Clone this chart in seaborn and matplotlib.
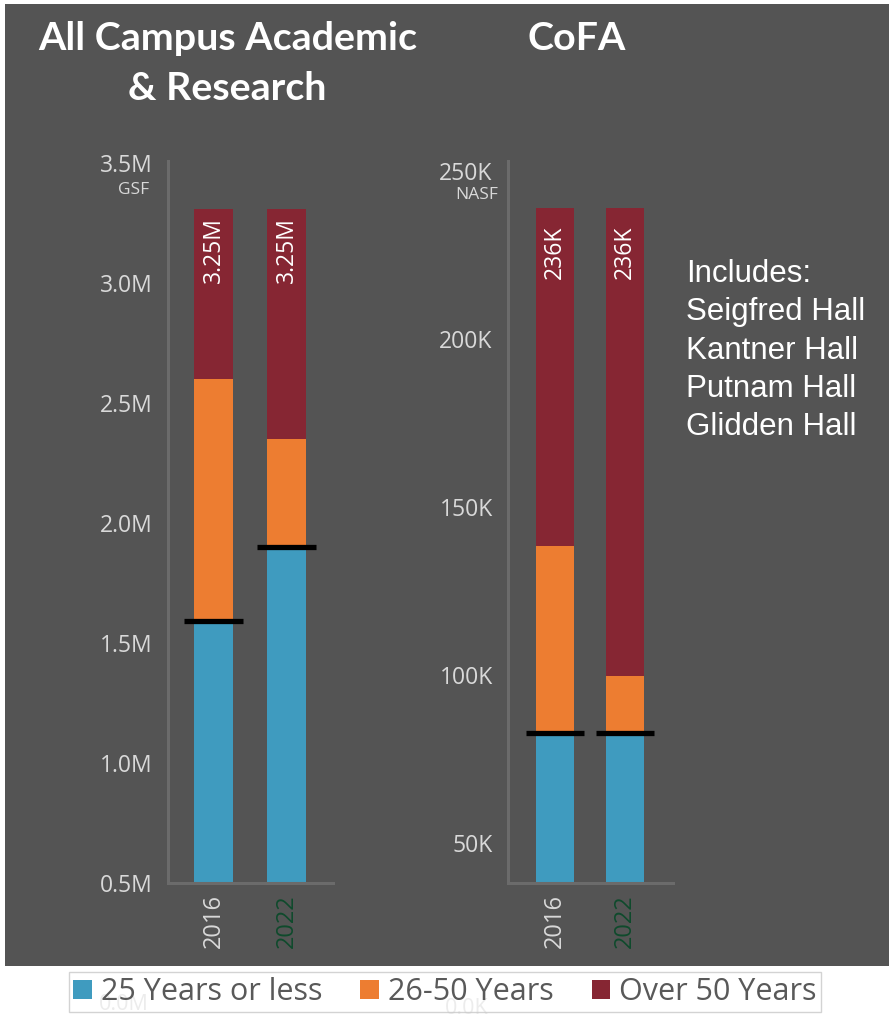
import numpy as np
import pandas as pd
import matplotlib
matplotlib.use("Agg")
import matplotlib.pyplot as plt
from matplotlib.patches import Patch, Rectangle
import seaborn as sns

sns.set_theme(style="white")
plt.rcParams['font.family'] = ['Open Sans', 'DejaVu Sans']

# ---------------- data ----------------
years = ["2016", "2022"]
series_names = ["25 Years or less", "26-50 Years", "Over 50 Years"]

# All Campus Academic & Research (GSF, millions)
campus_le25 = [1.59, 1.90]
campus_26_50 = [1.01, 0.45]
campus_over50 = [0.71, 0.96]
campus_labels = ["3.25M", "3.25M"]
campus_ticks = [0.5, 1.0, 1.5, 2.0, 2.5, 3.0, 3.5]
campus_ticklabels = ["0.5M", "1.0M", "1.5M", "2.0M", "2.5M", "3.0M", "3.5M"]

# CoFA (NASF, thousands)
cofa_le25 = [82.7, 82.7]
cofa_26_50 = [55.7, 17.0]
cofa_over50 = [100.6, 139.3]
cofa_labels = ["236K", "236K"]
cofa_ticks = [50, 100, 150, 200, 250]
cofa_ticklabels = ["50K", "100K", "150K", "200K", "250K"]

includes = ["Includes:", "Seigfred Hall", "Kantner Hall", "Putnam Hall", "Glidden Hall"]

# ---------------- style ----------------
BG = "#545454"
C_BLUE = "#3f9bbf"
C_ORANGE = "#ed7d31"
C_RED = "#862633"
TICK_C = "#d9d9d9"
SPINE_C = "#6b6b6b"
colors = [C_BLUE, C_ORANGE, C_RED]

W, H = 889, 1016
fig = plt.figure(figsize=(W / 100, H / 100), dpi=100, facecolor="white")
fig.patches.append(Rectangle((5 / W, (H - 966) / H), 1 - 5 / W, (966 - 4) / H,
                             transform=fig.transFigure, facecolor=BG,
                             edgecolor="none", zorder=-10))


def fx(px):
    return px / W


def fy(py):
    return 1 - py / H


def draw_panel(ax, le25, mid, over, labels, ticks, ticklabels, ylim, xlim,
               width, label_offset):
    df = pd.DataFrame({"year": years, "a": le25, "b": mid, "c": over})
    df["top_a"] = df["a"]
    df["top_b"] = df["a"] + df["b"]
    df["top_c"] = df["a"] + df["b"] + df["c"]
    for col, c in zip(["top_c", "top_b", "top_a"], [C_RED, C_ORANGE, C_BLUE]):
        sns.barplot(data=df, x="year", y=col, color=c, width=width,
                    saturation=1, ax=ax, edgecolor="none", linewidth=0)
    # black markers at top of "25 years or less"
    for i, v in enumerate(df["top_a"]):
        ax.hlines(v, i - 0.41, i + 0.41, color="black", lw=3.8, zorder=5,
                  clip_on=False)
    for i, (v, lab) in enumerate(zip(df["top_c"], labels)):
        ax.annotate(lab, (i, v), xytext=(0, label_offset),
                    textcoords="offset points", rotation=90, ha="center",
                    va="center", color="white", fontsize=16.5, zorder=6)
    ax.set_facecolor("none")
    ax.set_xlim(*xlim)
    ax.set_ylim(*ylim)
    ax.set_yticks(ticks)
    ax.set_yticklabels(ticklabels)
    ax.set_xlabel("")
    ax.set_ylabel("")
    ax.tick_params(axis="y", length=0, pad=11, labelsize=16.5, labelcolor=TICK_C)
    ax.tick_params(axis="x", length=0, pad=8, labelsize=17)
    for lbl in ax.get_xticklabels():
        lbl.set_rotation(90)
    xl = ax.get_xticklabels()
    xl[0].set_color(TICK_C)
    xl[1].set_color("#0f4a2c")
    for s in ["top", "right"]:
        ax.spines[s].set_visible(False)
    for s in ["left", "bottom"]:
        ax.spines[s].set_color(SPINE_C)
        ax.spines[s].set_linewidth(2.2)


# left panel
ax1 = fig.add_axes([fx(168), fy(883), fx(333 - 168), (883 - 161) / H])
draw_panel(ax1, campus_le25, campus_26_50, campus_over50, campus_labels,
           campus_ticks, campus_ticklabels, (0.5, 3.508), (-0.623, 1.637),
           0.534, -30)

# right panel
ax2 = fig.add_axes([fx(508), fy(883), fx(673 - 508), (883 - 161) / H])
draw_panel(ax2, cofa_le25, cofa_26_50, cofa_over50, cofa_labels,
           cofa_ticks, cofa_ticklabels, (38.1, 253.0), (-0.671, 1.686),
           0.543, -32)

# units
fig.text(fx(149), fy(190), "GSF", ha="right", va="center", color=TICK_C,
         fontsize=12.5)
fig.text(fx(498), fy(195), "NASF", ha="right", va="center", color=TICK_C,
         fontsize=12.5)

# titles
tfont = ["Lato", "DejaVu Sans"]
fig.text(fx(228), fy(38), "All Campus Academic", ha="center", va="center",
         color="white", fontsize=28.4, fontweight="bold", family=tfont)
fig.text(fx(227), fy(89), "& Research", ha="center", va="center",
         color="white", fontsize=28.4, fontweight="bold", family=tfont)
fig.text(fx(577), fy(38), "CoFA", ha="center", va="center",
         color="white", fontsize=28.4, fontweight="bold", family=tfont)

# includes
for k, line in enumerate(includes):
    fig.text(fx(686), fy(274 + 38.3 * k), line, ha="left", va="center",
             color="white", fontsize=22.5,
             family=["Liberation Sans", "DejaVu Sans"])

# faint clipped zero labels seen beneath the legend
fig.text(fx(124), fy(1004), "0.0M", ha="center", va="center", color="#ececec",
         fontsize=15.5)
fig.text(fx(467), fy(1008), "0.0K", ha="center", va="center", color="#ececec",
         fontsize=15.5)

# legend
handles = [Patch(facecolor=c, edgecolor="none", label=n)
           for c, n in zip(colors, series_names)]
leg = fig.legend(handles=handles, loc="center",
                 bbox_to_anchor=(fx(445), fy(992)), ncol=3, frameon=True,
                 fancybox=False, fontsize=22, handlelength=0.6,
                 handleheight=0.6, handletextpad=0.3, columnspacing=1.25,
                 borderpad=0.15, borderaxespad=0, labelcolor="#595959")
leg.get_frame().set_edgecolor("#c8c8c8")
leg.get_frame().set_linewidth(1.0)
leg.get_frame().set_facecolor("none")

fig.savefig("out.png", dpi=100, facecolor="white")
